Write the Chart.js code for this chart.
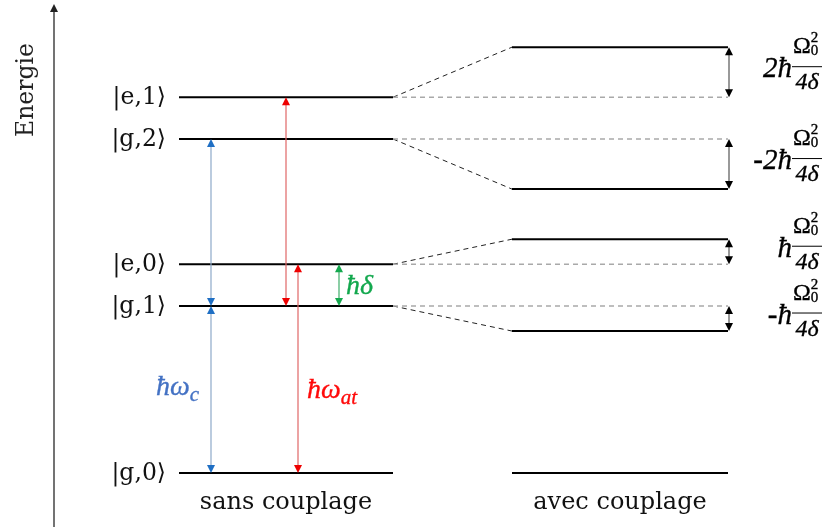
<!DOCTYPE html>
<html>
<head>
<meta charset="utf-8">
<script src="https://cdn.jsdelivr.net/npm/chart.js@4.4.1/dist/chart.umd.min.js"></script>
<style>
  html, body { margin: 0; padding: 0; background: #fff; }
  canvas { display: block; }
</style>
</head>
<body>
<canvas id="levels" width="828" height="527"></canvas>
<script>
// Energy levels, in units of hbar*omega_c
const levelNames = ["|g,0\u27E9", "|g,1\u27E9", "|e,0\u27E9", "|g,2\u27E9", "|e,1\u27E9"];
const bareEnergies = [0, 1, 1.25, 2, 2.25];
// light shift of each level once coupled (Omega0^2 / 4delta = 0.15)
const coupledShifts = [0, -0.15, 0.15, -0.3, 0.3];
const shiftPrefixes = ["", "-\u0127", "\u0127", "-2\u0127", "2\u0127"];
const columnLabels = ["sans couplage", "avec couplage"];

// transition arrows: [x, lower level index, upper level index, colour key]
const transitions = [
  [211, 1, 3, "blue"],
  [211, 0, 1, "blue"],
  [286, 1, 4, "red"],
  [298, 0, 2, "red"],
  [339, 1, 2, "green"],
];

const LEFT = [179, 393];
const RIGHT = [512, 728];
const SHIFT_ARROW_X = 729;
const SERIF = "'DejaVu Serif', serif";
const MATH = "'Liberation Serif', 'DejaVu Serif', serif";

const palette = {
  blue: { line: "#8ea9c9", head: "#1f6fc4", text: "#4472c4" },
  red: { line: "#e06666", head: "#ee0000", text: "#ff0a0a" },
  green: { line: "#3fae6a", head: "#14a84e", text: "#13a84e" },
  black: { line: "#555555", head: "#000000", text: "#000000" },
};

function buildDatasets() {
  const sets = [];
  bareEnergies.forEach((e, i) => {
    const s = coupledShifts[i];
    sets.push({ data: [{ x: LEFT[0], y: e }, { x: LEFT[1], y: e }], borderColor: "#000", borderWidth: 2 });
    sets.push({ data: [{ x: RIGHT[0], y: e + s }, { x: RIGHT[1], y: e + s }], borderColor: "#000", borderWidth: 2 });
    if (s !== 0) {
      sets.push({ data: [{ x: LEFT[1], y: e }, { x: RIGHT[1], y: e }], borderColor: "#a9a9a9", borderWidth: 1.3, borderDash: [5, 4] });
      sets.push({ data: [{ x: LEFT[1], y: e }, { x: RIGHT[0], y: e + s }], borderColor: "#222", borderWidth: 1, borderDash: [5, 4] });
    }
  });
  return sets;
}

function head(ctx, x, y, dir, color) {
  // dir = -1 points up, +1 points down; tip at (x, y)
  ctx.fillStyle = color;
  ctx.beginPath();
  ctx.moveTo(x, y);
  ctx.lineTo(x - 4, y - dir * 8);
  ctx.lineTo(x + 4, y - dir * 8);
  ctx.closePath();
  ctx.fill();
}

function doubleArrow(ctx, x, yTop, yBot, col) {
  ctx.strokeStyle = col.line;
  ctx.lineWidth = 1.2;
  ctx.beginPath();
  ctx.moveTo(x, yTop + 4);
  ctx.lineTo(x, yBot - 4);
  ctx.stroke();
  head(ctx, x, yTop, -1, col.head);
  head(ctx, x, yBot, 1, col.head);
}

// text filled and lightly stroked, to mimic the heavier math font
function heavyText(ctx, str, x, y) {
  ctx.lineWidth = 0.35;
  ctx.strokeStyle = ctx.fillStyle;
  ctx.fillText(str, x, y);
  ctx.strokeText(str, x, y);
}

function drawShiftLabel(ctx, prefix, yMid) {
  const fx = 792, w = 30;
  const bar = yMid - 6;
  ctx.fillStyle = "#000";
  ctx.strokeStyle = "#000";
  ctx.textBaseline = "alphabetic";
  // fraction bar
  ctx.lineWidth = 1;
  ctx.beginPath();
  ctx.moveTo(fx, bar + 0.5);
  ctx.lineTo(fx + w, bar + 0.5);
  ctx.stroke();
  // numerator: Omega with sub 0 and sup 2
  ctx.font = "24px " + MATH;
  ctx.textAlign = "left";
  const omW = ctx.measureText("\u03A9").width;
  heavyText(ctx, "\u03A9", fx + 1, bar - 13);
  ctx.font = "15px " + MATH;
  heavyText(ctx, "2", fx + 1 + omW, bar - 24);
  heavyText(ctx, "0", fx + 1 + omW, bar - 11);
  // denominator
  ctx.font = "italic 24px " + MATH;
  ctx.textAlign = "center";
  heavyText(ctx, "4\u03B4", fx + w / 2, bar + 23);
  // prefix
  ctx.font = "italic 29px " + MATH;
  ctx.textAlign = "right";
  heavyText(ctx, prefix, fx, yMid + 5);
}

function mathLabel(ctx, main, sub, x, y, color) {
  ctx.fillStyle = color;
  ctx.textAlign = "left";
  ctx.textBaseline = "alphabetic";
  ctx.font = "italic 28px " + MATH;
  heavyText(ctx, main, x, y);
  if (sub) {
    const w = ctx.measureText(main).width;
    ctx.font = "italic 21px " + MATH;
    heavyText(ctx, sub, x + w, y + 6);
  }
}

const diagramPlugin = {
  id: "diagram",
  afterDatasetsDraw(chart) {
    const ctx = chart.ctx;
    const xs = chart.scales.x;
    const ys = chart.scales.y;
    const py = (e) => ys.getPixelForValue(e);
    ctx.save();

    // energy axis
    ctx.strokeStyle = "#444";
    ctx.lineWidth = 1.5;
    ctx.beginPath();
    ctx.moveTo(54, 527);
    ctx.lineTo(54, 10);
    ctx.stroke();
    head(ctx, 54, 4, -1, "#222");
    ctx.save();
    ctx.translate(33, 90);
    ctx.rotate(-Math.PI / 2);
    ctx.fillStyle = "#222";
    ctx.font = "23.5px " + SERIF;
    ctx.textAlign = "center";
    ctx.textBaseline = "alphabetic";
    ctx.fillText("Energie", 0, 0);
    ctx.restore();

    // level names
    ctx.fillStyle = "#111";
    ctx.font = "23.5px " + SERIF;
    ctx.textAlign = "right";
    ctx.textBaseline = "middle";
    levelNames.forEach((name, i) => ctx.fillText(name, 166, py(bareEnergies[i]) + 1));

    // transitions
    transitions.forEach(([x, lo, hi, key]) => {
      doubleArrow(ctx, xs.getPixelForValue(x), py(bareEnergies[hi]), py(bareEnergies[lo]), palette[key]);
    });

    // shift arrows and labels
    bareEnergies.forEach((e, i) => {
      const s = coupledShifts[i];
      if (s === 0) return;
      const a = py(Math.max(e, e + s));
      const b = py(Math.min(e, e + s));
      doubleArrow(ctx, xs.getPixelForValue(SHIFT_ARROW_X), a, b, palette.black);
      drawShiftLabel(ctx, shiftPrefixes[i], (a + b) / 2);
    });

    // transition names
    mathLabel(ctx, "\u0127\u03C9", "c", 156, 395, palette.blue.text);
    mathLabel(ctx, "\u0127\u03C9", "at", 307, 398, palette.red.text);
    mathLabel(ctx, "\u0127\u03B4", "", 346, 294, palette.green.text);

    // column names
    ctx.fillStyle = "#111";
    ctx.font = "24px " + SERIF;
    ctx.textAlign = "center";
    ctx.textBaseline = "alphabetic";
    ctx.fillText(columnLabels[0], xs.getPixelForValue(286), 509);
    ctx.fillText(columnLabels[1], xs.getPixelForValue(620), 509);

    ctx.restore();
  },
};

new Chart(document.getElementById("levels").getContext("2d"), {
  type: "line",
  data: { datasets: buildDatasets() },
  options: {
    responsive: false,
    animation: false,
    layout: { padding: 0 },
    elements: { point: { radius: 0 }, line: { tension: 0 } },
    plugins: { legend: { display: false }, tooltip: { enabled: false } },
    scales: {
      x: { type: "linear", display: false, min: 0, max: 828 },
      y: { type: "linear", display: false, min: -54 / 167, max: 473 / 167 },
    },
  },
  plugins: [diagramPlugin],
});
</script>
</body>
</html>
